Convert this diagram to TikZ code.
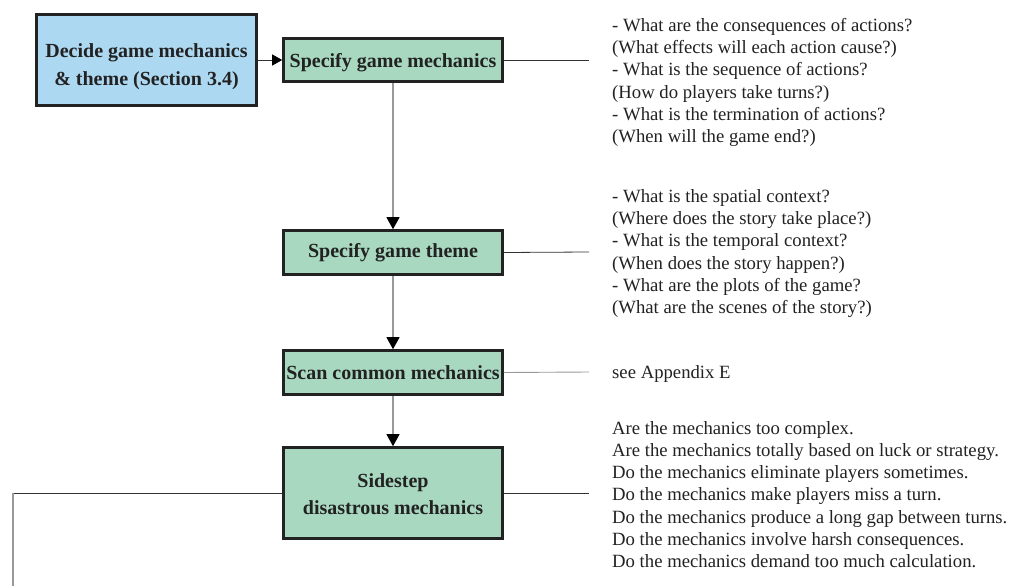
\documentclass[tikz,border=0pt]{standalone}
\usepackage{fontspec}
\setmainfont{Liberation Serif}
\usetikzlibrary{arrows.meta}
\definecolor{bluefill}{HTML}{ADD8F2}
\definecolor{greenfill}{HTML}{A8D8C0}
\definecolor{boxline}{HTML}{222222}
\definecolor{darkline}{HTML}{333333}
\definecolor{grayline}{HTML}{999999}
\definecolor{textcol}{HTML}{222222}
\begin{document}
\begin{tikzpicture}[x=1pt,y=-1pt,
  box/.style={draw=boxline, line width=2.6pt, align=center, inner sep=0pt,
    text=textcol, font=\bfseries\fontsize{20}{27.5}\selectfont},
  bluebox/.style={box, fill=bluefill},
  greenbox/.style={box, fill=greenfill},
  note/.style={align=left, inner sep=0pt, text=textcol, anchor=west,
    font=\fontsize{18.7}{22.2}\selectfont},
  link/.style={draw=darkline, line width=0.8pt},
  graylink/.style={draw=grayline, line width=1.2pt},
  flow/.style={graylink, -{Triangle[length=12pt,width=13pt,color=black]}},
  hflow/.style={link, -{Triangle[length=10pt,width=11pt,color=black]}}
]
\useasboundingbox (0,0) rectangle (1011,586);
\fill[white] (0,0) rectangle (1011,586);

\node[bluebox, minimum width=220pt, minimum height=91pt] (decide) at (146.5,60)
  {\rule{0pt}{27pt}Decide game mechanics\\ \& theme (Section 3.4)};
\node[greenbox, minimum width=219pt, minimum height=43pt] (mech) at (393,60)
  {\rule{0pt}{19.5pt}Specify game mechanics};
\node[greenbox, minimum width=219pt, minimum height=44pt] (theme) at (393,252.5)
  {Specify game theme};
\node[greenbox, minimum width=219pt, minimum height=44pt] (scan) at (393,372.5)
  {Scan common mechanics};
\node[greenbox, minimum width=219pt, minimum height=91pt] (side) at (393,493)
  {\rule{0pt}{16pt}Sidestep\\ disastrous mechanics};

\coordinate (r1) at (589,60);
\coordinate (r2) at (589,252);
\coordinate (r3) at (589,372);
\coordinate (r4) at (589,493);
\coordinate (lcorner) at (13,493);
\coordinate (lend) at (13,586);

\draw[hflow] (decide.east) -- (mech.west);
\draw[flow] (mech.south) -- (theme.north);
\draw[flow] (theme.south) -- (scan.north);
\draw[flow] (scan.south) -- (side.north);

\draw[link] (mech.east) -- (r1);
\draw[link] (theme.east) -- (r2);
\draw[graylink, line width=0.9pt] (scan.east) -- (r3);
\draw[link] (side.east) -- (r4);
\draw[link] (side.west) -- (lcorner);
\draw[graylink] (lcorner) -- (lend);

\node[note] (n1) at (612,82.5)
  {- What are the consequences of actions?\\
   (What effects will each action cause?)\\
   - What is the sequence of actions?\\
   (How do players take turns?)\\
   - What is the termination of actions?\\
   (When will the game end?)};
\node[note] (n2) at (612,253.5)
  {- What is the spatial context?\\
   (Where does the story take place?)\\
   - What is the temporal context?\\
   (When does the story happen?)\\
   - What are the plots of the game?\\
   (What are the scenes of the story?)};
\node[note] (n3) at (612,374)
  {see Appendix E};
\node[note] (n4) at (612,494.5)
  {Are the mechanics too complex.\\
   Are the mechanics totally based on luck or strategy.\\
   Do the mechanics eliminate players sometimes.\\
   Do the mechanics make players miss a turn.\\
   Do the mechanics produce a long gap between turns.\\
   Do the mechanics involve harsh consequences.\\
   Do the mechanics demand too much calculation.};
\end{tikzpicture}
\end{document}
